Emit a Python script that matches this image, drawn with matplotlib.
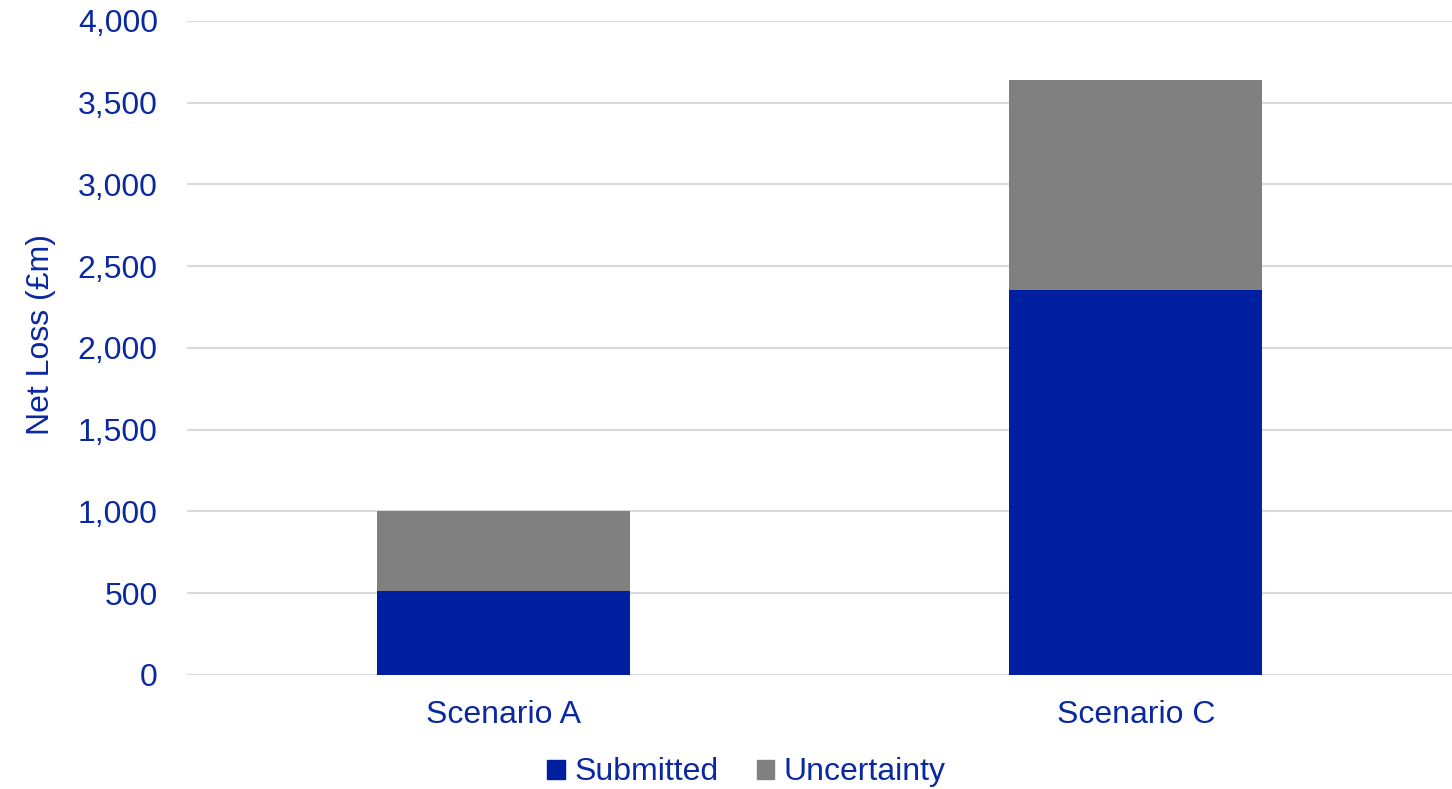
import numpy as np
import matplotlib.pyplot as plt
from matplotlib.patches import Patch

plt.rcParams['font.family'] = ['Liberation Sans', 'DejaVu Sans']

scenarios = ['Scenario A', 'Scenario C']
submitted = [515, 2352]
uncertainty = [488, 1290]

blue = '#001EA0'
grey = '#808080'
text_col = '#0A28A0'

fig = plt.figure(figsize=(14.52, 7.89), dpi=100)
ax = fig.add_axes([0.1288, 0.1445, 0.8712, 0.8289])

x = np.arange(len(scenarios))
ax.bar(x, submitted, width=0.4, color=blue, zorder=3)
ax.bar(x, uncertainty, width=0.4, bottom=submitted, color=grey, zorder=3)

ax.set_xlim(-0.5, 1.5)
ax.set_ylim(0, 4000)
ax.set_yticks(np.arange(0, 4001, 500))
ax.set_yticklabels([f'{v:,}' for v in range(0, 4001, 500)])
ax.set_xticks(x)
ax.set_xticklabels(scenarios)
ax.grid(axis='y', color='#D9D9D9', linewidth=1.5, zorder=0)
for s in ax.spines.values():
    s.set_visible(False)
ax.tick_params(axis='both', length=0, labelsize=23, colors=text_col)
ax.tick_params(axis='y', pad=21)
ax.tick_params(axis='x', pad=18)
ax.set_ylabel('Net Loss (£m)', fontsize=23, color=text_col, labelpad=16)
ax.yaxis.label.set_y(0.521)

handles = [Patch(color=blue, label='Submitted'), Patch(color=grey, label='Uncertainty')]
leg = fig.legend(handles=handles, loc='center', bbox_to_anchor=(0.514, 0.021),
                 ncol=2, frameon=False, fontsize=23, handlelength=0.55, handleheight=0.55,
                 handletextpad=0.3, columnspacing=1.2)
for t in leg.get_texts():
    t.set_color(text_col)

fig.savefig('out.png', dpi=100)
